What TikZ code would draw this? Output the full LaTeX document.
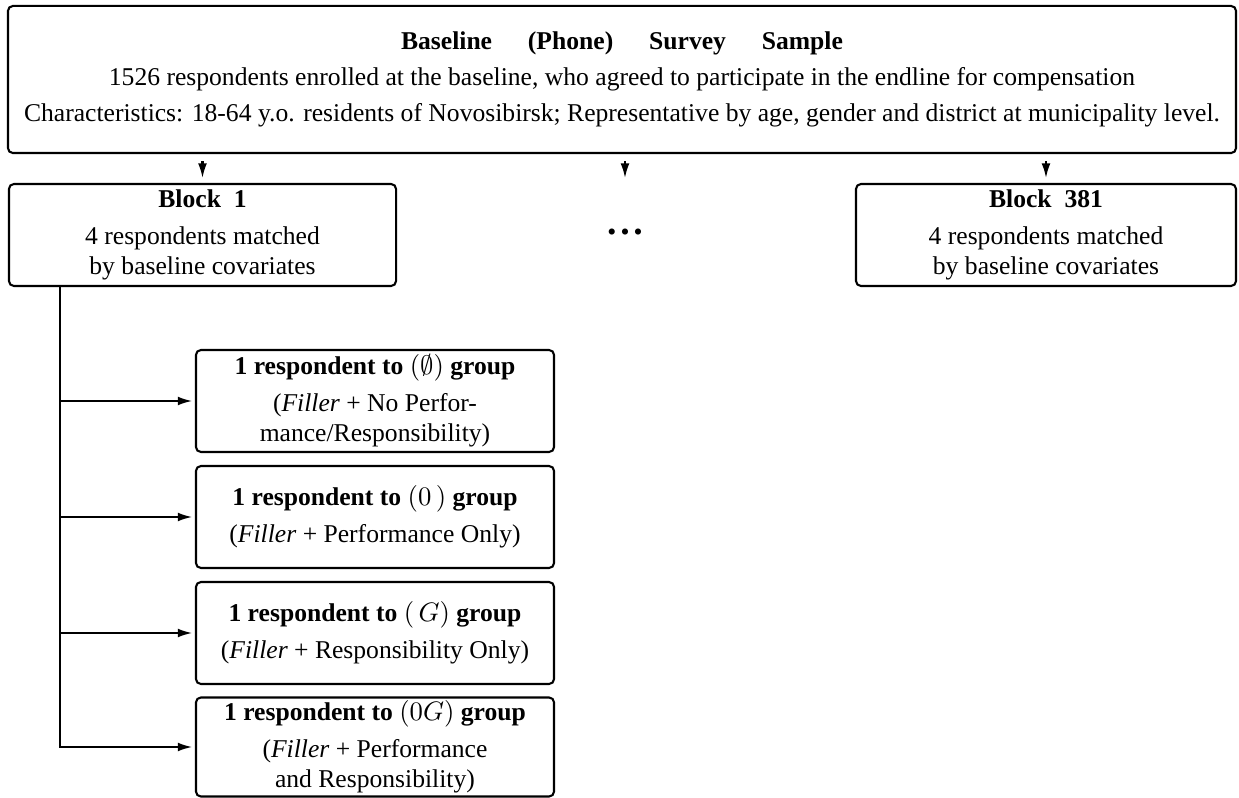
\documentclass[tikz,border=0pt]{standalone}
\usepackage{amsmath,amssymb}
\usepackage{fontspec}
\setmainfont{Liberation Serif}
\usepackage{tikz}
\usetikzlibrary{arrows.meta,positioning}

\begin{document}
\begin{tikzpicture}[x=0.41pt,y=-0.41pt,
  box/.style={draw,line width=0.85pt,rounded corners=2pt,align=center,inner sep=0pt,font=\fontsize{10.5}{12.4}\selectfont},
  down/.style={line width=0.85pt,-{Latex[length=6pt,width=3.6pt]},shorten <=3pt,shorten >=2pt},
  side/.style={line width=0.85pt,-{Latex[length=6pt,width=3.6pt]},shorten >=1pt}]
 \useasboundingbox (0,0) rectangle (1239,798);
 % ---- sample ----
 \node[box,minimum width=503.5pt,minimum height=60.3pt] (top) at (622,79.5)
  {\textbf{Baseline\hspace{1.4em}(Phone)\hspace{1.4em}Survey\hspace{1.4em}Sample}\\[2.3pt]
   1526 respondents enrolled at the baseline, who agreed to participate in the endline for compensation\\[2.3pt]
   Characteristics: 18-64 y.o. residents of Novosibirsk; Representative by age, gender and district at municipality level.};
 % ---- blocks ----
 \node[box,minimum width=158.7pt,minimum height=41.8pt] (b1) at (202.5,235)
  {\textbf{Block\ \ 1}\\[2.8pt]4 respondents matched\\by baseline covariates};
 \node (dots) at (625,235) {\fontsize{10.5}{12.4}\selectfont\textbullet\,\textbullet\,\textbullet};
 \node[box,minimum width=155.8pt,minimum height=41.8pt] (b381) at (1046,235)
  {\textbf{Block\ \ 381}\\[2.8pt]4 respondents matched\\by baseline covariates};
 \draw[down] (top.south -| b1) -- (b1.north);
 \draw[down] (top.south -| dots) -- (b1.north -| dots);
 \draw[down] (top.south -| b381) -- (b381.north);
 % ---- groups ----
 \node[box,minimum width=146.8pt,minimum height=41.8pt] (g1) at (375,401)
  {\textbf{1 respondent to} $(\emptyset)$ \textbf{group}\\[2.8pt](\textit{Filler} + No Perfor-\\mance/Responsibility)};
 \node[box,minimum width=146.8pt,minimum height=41.8pt] (g2) at (375,517)
  {\textbf{1 respondent to} $(0\,)$ \textbf{group}\\[2.8pt](\textit{Filler} + Performance Only)};
 \node[box,minimum width=146.8pt,minimum height=41.8pt] (g3) at (375,633)
  {\textbf{1 respondent to} $(\,G)$ \textbf{group}\\[2.8pt](\textit{Filler} + Responsibility Only)};
 \node[box,minimum width=146.8pt,minimum height=40.6pt] (g4) at (375,747)
  {\textbf{1 respondent to} $(0G)$ \textbf{group}\\[2.8pt](\textit{Filler} + Performance\\and Responsibility)};
 \coordinate (spine) at (60,286);
 \draw[side] (spine) |- (g4.west);
 \draw[side] (spine |- g1.west) -- (g1.west);
 \draw[side] (spine |- g2.west) -- (g2.west);
 \draw[side] (spine |- g3.west) -- (g3.west);
\end{tikzpicture}
\end{document}
